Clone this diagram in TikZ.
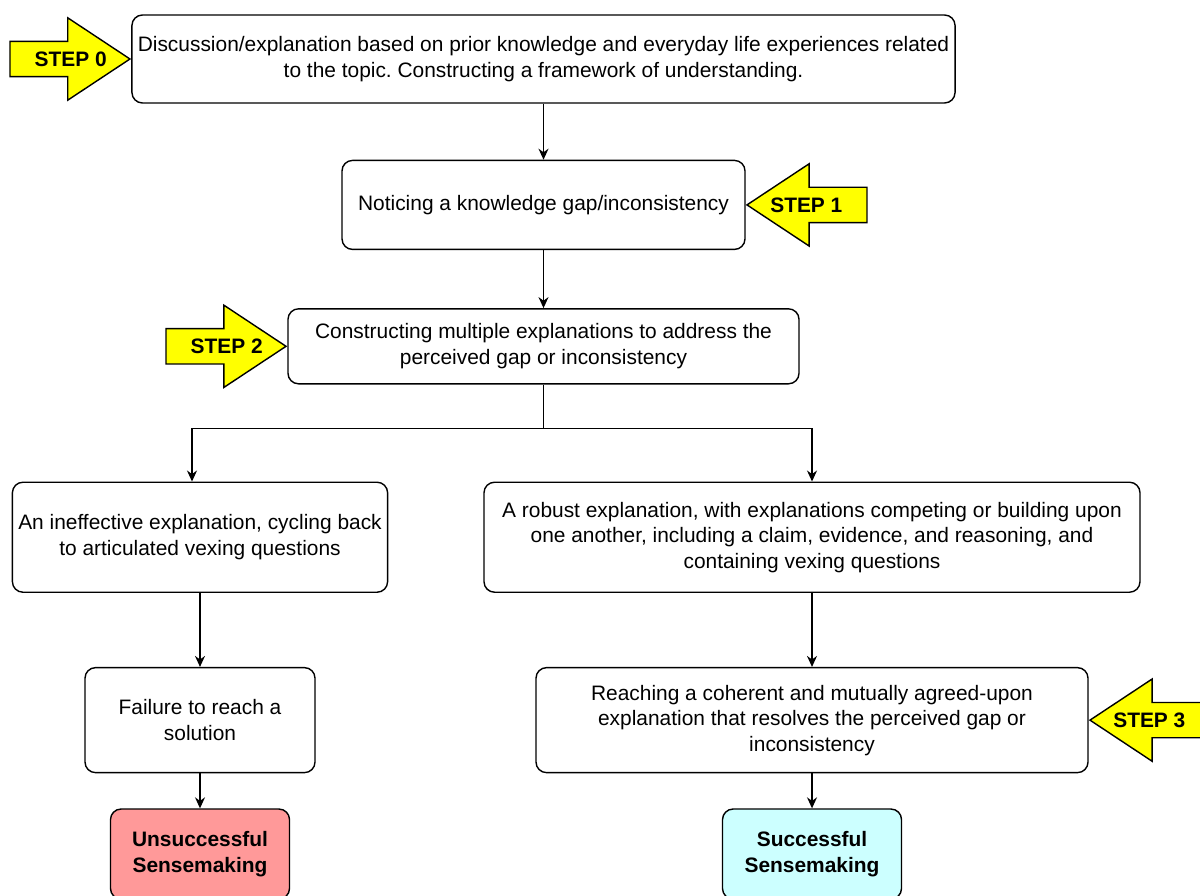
\documentclass[tikz,border=0pt]{standalone}
\usepackage{fontspec}
\setmainfont{Liberation Sans}
\usepackage{xcolor}
\usepackage{tikz}
\usetikzlibrary{arrows.meta,positioning,shapes.arrows}
\definecolor{stepyellow}{HTML}{FFFF00}
\definecolor{failred}{HTML}{FF9999}
\definecolor{okcyan}{HTML}{CCFFFF}
\newcommand{\boxfont}{\fontsize{11.9}{14.5}\selectfont}
\frenchspacing
\tikzset{
  box/.style={rectangle,rounded corners=6pt,draw=black,fill=#1,line width=0.8pt,
    align=center,font=\boxfont},
  box/.default=white,
  endbox/.style={box=#1,font=\boxfont\bfseries,minimum width=3.58cm,minimum height=1.8cm},
  steparrow/.style={single arrow,draw=black,fill=stepyellow,line width=0.8pt,
    font=\boxfont\bfseries,single arrow head extend=0.47cm,single arrow tip angle=67,
    minimum height=2.4cm,inner xsep=2pt,inner ysep=5.4pt,text height=8.5pt,text depth=0pt,
    anchor=tip},
  % shift the label towards the tip, keeping the text box width
  stepright/.style={steparrow,execute at begin node={\hspace*{0.28cm}},
    execute at end node={\hspace*{-0.28cm}}},
  stepleft/.style={steparrow,shape border rotate=180,execute at begin node={\hspace*{-0.28cm}},
    execute at end node={\hspace*{0.28cm}}},
  arrow/.style={-{Stealth[length=2.2mm,width=2mm]},line width=0.8pt,draw=black}
}
\begin{document}
\begin{tikzpicture}
\useasboundingbox (0,0) rectangle (24,-17.9);

\node[box,minimum width=16.42cm,minimum height=1.76cm] (discuss) at (10.87,-1.18)
  {Discussion/explanation based on prior knowledge and everyday life experiences related\\to the topic. Constructing a framework of understanding.};
\node[box,minimum width=8.06cm,minimum height=1.78cm,below=1.12cm of discuss] (gap)
  {Noticing a knowledge gap/inconsistency};
\node[box,minimum width=10.22cm,minimum height=1.5cm,below=1.16cm of gap] (multi)
  {Constructing multiple explanations to address the\\perceived gap or inconsistency};

\node[box,minimum width=7.48cm,minimum height=2.2cm,below=1.94cm of multi,xshift=-6.87cm] (weak)
  {An ineffective explanation, cycling back\\to articulated vexing questions};
\node[box,minimum width=13.12cm,minimum height=2.2cm,below=1.94cm of multi,xshift=5.37cm] (robust)
  {A robust explanation, with explanations competing or building upon\\one another, including a claim, evidence, and reasoning, and\\containing vexing questions};

\node[box,minimum width=4.6cm,minimum height=2.1cm,below=1.48cm of weak] (fail)
  {Failure to reach a\\solution};
\node[box,minimum width=11.04cm,minimum height=2.1cm,below=1.48cm of robust] (agree)
  {Reaching a coherent and mutually agreed-upon\\explanation that resolves the perceived gap or\\inconsistency};

\node[endbox=failred,below=0.7cm of fail] (unsucc) {Unsuccessful\\Sensemaking};
\node[endbox=okcyan,below=0.7cm of agree] (succ) {Successful\\Sensemaking};

% step markers
\node[stepright] (step0) at (discuss.west) {STEP 0};
\node[stepleft] (step1) at (gap.east) {STEP 1};
\node[stepright] (step2) at (multi.west) {STEP 2};
\node[stepleft] (step3) at (agree.east) {STEP 3};

\draw[arrow] (discuss) -- (gap);
\draw[arrow] (gap) -- (multi);
\draw[arrow] (multi.south) -- ++(0,-0.88) -| ([xshift=-0.16cm]weak.north);
\draw[arrow] (multi.south) -- ++(0,-0.88) -| (robust.north);
\draw[arrow] (weak) -- (fail);
\draw[arrow] (robust) -- (agree);
\draw[arrow] (fail) -- (unsucc);
\draw[arrow] (agree) -- (succ);
\end{tikzpicture}
\end{document}
